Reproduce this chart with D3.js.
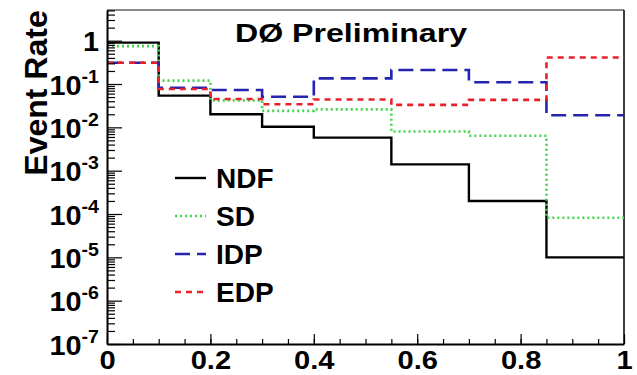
<!DOCTYPE html>
<html>
<head>
<meta charset="utf-8">
<script src="https://cdn.jsdelivr.net/npm/d3@7"></script>
<style>
  html, body { margin: 0; padding: 0; background: #fff; }
  svg { display: block; }
  text { font-family: "Liberation Sans", Arial, Helvetica, sans-serif; font-weight: bold; fill: #000; }
</style>
</head>
<body>
<svg id="chart" width="637" height="375"></svg>
<script>
// bin edges along x
const edges = [0, 0.1, 0.2, 0.3, 0.4, 0.55, 0.7, 0.85, 1];

// per-bin event rates
const ndf = [0.9, 0.054, 0.020, 0.0103, 0.0058, 0.0014, 2.0e-4, 1.0e-5];
const sd  = [0.75, 0.12, 0.042, 0.024, 0.026, 0.0080, 0.0064, 8.2e-5];
const idp = [0.31, 0.082, 0.073, 0.051, 0.135, 0.21, 0.11, 0.019];
const edp = [0.31, 0.077, 0.045, 0.034, 0.044, 0.033, 0.043, 0.41];

const seriesNames = ['NDF', 'SD', 'IDP', 'EDP'];
const xTicks = [0, 0.2, 0.4, 0.6, 0.8, 1];
const xTickLabels = ['0', '0.2', '0.4', '0.6', '0.8', '1'];
const yExponents = [0, -1, -2, -3, -4, -5, -6, -7];

const styles = {
  NDF: { color: '#000000', dash: null, width: 2.4 },
  SD:  { color: '#44d44c', dash: '2,3', width: 2.6 },
  IDP: { color: '#2424b0', dash: '15,7', width: 2.6 },
  EDP: { color: '#e8202c', dash: '6,5', width: 2.6 }
};

const svg = d3.select('#chart');
const margin = { top: 10, right: 13, bottom: 31, left: 107 };
const width = +svg.attr('width') - margin.left - margin.right;
const height = +svg.attr('height') - margin.top - margin.bottom;
const g = svg.append('g').attr('transform', `translate(${margin.left},${margin.top})`);

const x = d3.scaleLinear().domain([0, 1]).range([0, width]);
const y = d3.scaleLog().domain([1e-7, Math.pow(10, 0.708)]).range([height, 0]);

// frame: top gray, right black
g.append('line').attr('x1', 0).attr('x2', width).attr('y1', 0).attr('y2', 0)
  .attr('stroke', '#888').attr('stroke-width', 2);
g.append('line').attr('x1', width).attr('x2', width).attr('y1', 0).attr('y2', height)
  .attr('stroke', '#000').attr('stroke-width', 1.5);

// histograms
const data = { NDF: ndf, SD: sd, IDP: idp, EDP: edp };
const line = d3.line()
  .x(p => x(p[0]))
  .y(p => y(p[1]))
  .curve(d3.curveStepAfter);

seriesNames.forEach(name => {
  const vals = data[name];
  const pts = vals.map((v, i) => [edges[i], v]);
  pts.push([edges[edges.length - 1], vals[vals.length - 1]]);
  const st = styles[name];
  g.append('path')
    .datum(pts)
    .attr('d', line)
    .attr('fill', 'none')
    .attr('stroke', st.color)
    .attr('stroke-width', st.width)
    .attr('stroke-dasharray', st.dash);
});

// x axis
const xMinor = d3.range(0, 1.0001, 0.05).map(v => +v.toFixed(2));
g.append('g')
  .attr('transform', `translate(0,${height})`)
  .call(d3.axisBottom(x).tickValues(xMinor).tickSize(-5).tickSizeOuter(0).tickFormat(''))
  .call(a => a.select('.domain').remove())
  .call(a => a.selectAll('line').attr('stroke-width', 1.2));
g.append('g')
  .attr('transform', `translate(0,${height})`)
  .call(d3.axisBottom(x).tickValues(xTicks).tickSize(-10).tickSizeOuter(0).tickPadding(7)
    .tickFormat((d, i) => xTickLabels[i]))
  .call(a => a.select('.domain').attr('stroke-width', 2))
  .call(a => a.selectAll('line').attr('stroke-width', 1.2))
  .call(a => a.selectAll('text')
    .attr('font-size', 26)
    .attr('font-family', null)
    .attr('fill', '#000')
    .attr('transform', 'scale(1.12,1)'));

// y axis
const yMajor = yExponents.map(e => Math.pow(10, e));
const yMinor = [];
yExponents.forEach(e => {
  for (let k = 2; k <= 9; k++) {
    const v = k * Math.pow(10, e);
    if (v < y.domain()[1]) yMinor.push(v);
  }
});
g.append('g')
  .call(d3.axisLeft(y).tickValues(yMinor).tickSize(-8).tickSizeOuter(0).tickFormat(''))
  .call(a => a.select('.domain').remove())
  .call(a => a.selectAll('line').attr('stroke-width', 1.2));
const yAxis = g.append('g')
  .call(d3.axisLeft(y).tickValues(yMajor).tickSize(-15).tickSizeOuter(0).tickPadding(8).tickFormat(''))
  .call(a => a.select('.domain').attr('stroke-width', 2))
  .call(a => a.selectAll('line').attr('stroke-width', 1.2));

yAxis.selectAll('.tick text')
  .attr('font-family', null)
  .attr('fill', '#000')
  .attr('x', 0)
  .attr('transform', 'translate(-8,0) scale(1.03,1)')
  .each(function (d) {
    const t = d3.select(this);
    const e = Math.round(Math.log10(d));
    if (e === 0) {
      t.append('tspan').attr('font-size', 28).attr('dy', '0.35em').text('1');
    } else {
      t.append('tspan').attr('font-size', 28).attr('dy', '0.36em').text('10');
      t.append('tspan').attr('font-size', 19).attr('dy', '-0.62em').text(String(e));
    }
  });

// y title
svg.append('text')
  .attr('transform', 'translate(47,93) rotate(-90)')
  .attr('text-anchor', 'middle')
  .attr('font-size', 32)
  .text('Event Rate');

// title
svg.append('text')
  .attr('x', 235)
  .attr('y', 42)
  .attr('font-size', 26)
  .attr('textLength', 232)
  .attr('lengthAdjust', 'spacingAndGlyphs')
  .text('DØ Preliminary');

// legend
const legendLineY = [178, 216, 254, 292];
const legend = svg.append('g');
seriesNames.forEach((name, i) => {
  const st = styles[name];
  legend.append('line')
    .attr('x1', 175).attr('x2', 206)
    .attr('y1', legendLineY[i]).attr('y2', legendLineY[i])
    .attr('stroke', st.color)
    .attr('stroke-width', st.width)
    .attr('stroke-dasharray', st.dash);
  legend.append('text')
    .attr('x', 216)
    .attr('y', legendLineY[i] + 10)
    .attr('font-size', 28)
    .text(name);
});
</script>
</body>
</html>
